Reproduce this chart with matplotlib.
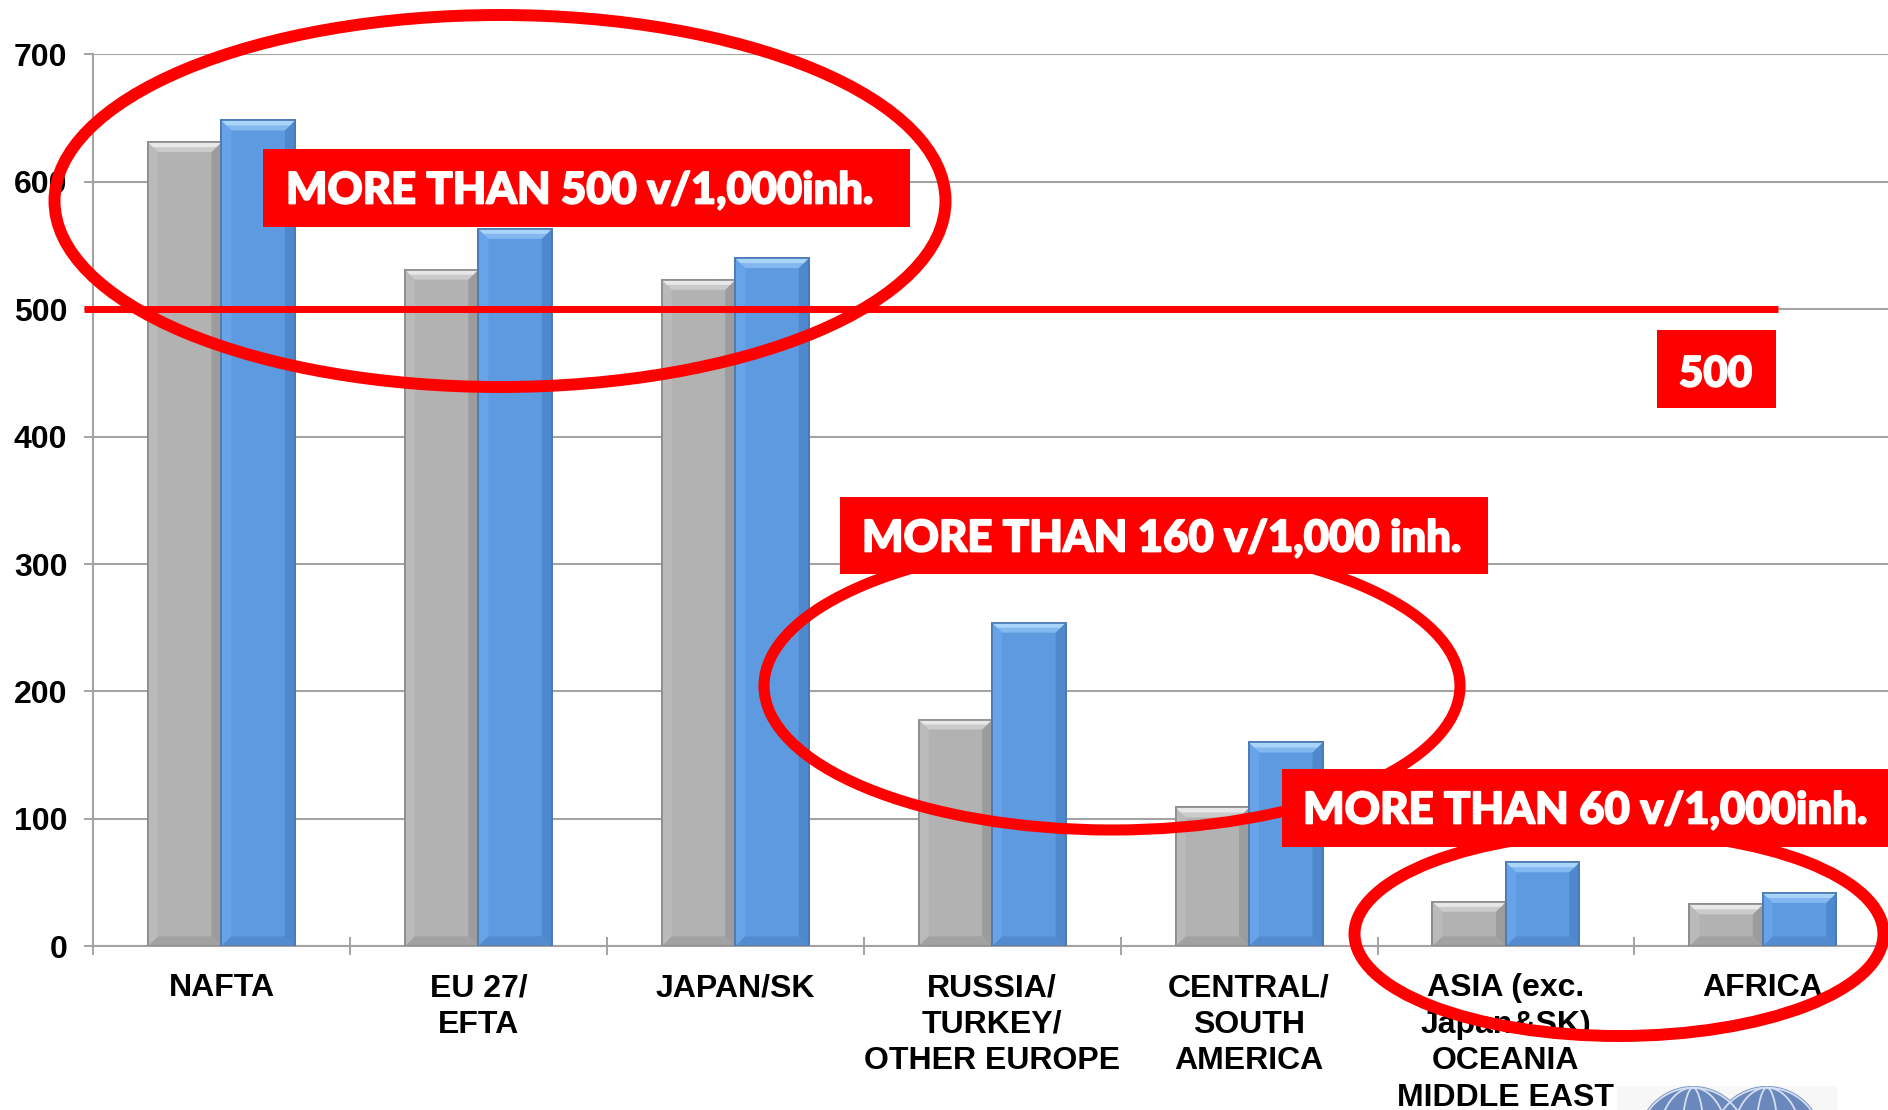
import numpy as np
import matplotlib
matplotlib.use("Agg")
import matplotlib.pyplot as plt
import matplotlib.patheffects as pe
from matplotlib.patches import Ellipse, Rectangle, Polygon

# ---------------------------------------------------------------- data
regions = ["NAFTA", "EU 27/\nEFTA", "JAPAN/SK", "RUSSIA/\nTURKEY/\nOTHER EUROPE",
           "CENTRAL/\nSOUTH\nAMERICA", "ASIA (exc.\nJapan&SK)\nOCEANIA\nMIDDLE EAST",
           "AFRICA"]
earlier = [631, 531, 523, 178, 109, 35, 33]     # grey series (vehicles / 1,000 inh.)
later = [648, 563, 540, 254, 160, 66, 42]       # blue series (vehicles / 1,000 inh.)
y_ticks = [0, 100, 200, 300, 400, 500, 600, 700]
threshold = 500
threshold_label = "500"
callouts = ["MORE THAN 500 v/1,000inh.",
            "MORE THAN 160 v/1,000 inh.",
            "MORE THAN 60 v/1,000inh."]

# ---------------------------------------------------------------- layout
W, H = 1888, 1110
plt.rcParams['font.family'] = ['Liberation Sans', 'DejaVu Sans']
fig = plt.figure(figsize=(W / 100, H / 100), dpi=100)
fig.patch.set_facecolor('white')


def fx(x):
    return x / W


def fy(y):
    return 1 - y / H


AX_L, AX_ZERO, AX_TOP = 93, 946.4, 54.2
CAT_PX = 256.9
ax = fig.add_axes([fx(AX_L), fy(AX_ZERO), (W - AX_L) / W, (AX_ZERO - AX_TOP) / H])
ax.set_xlim(-0.5, -0.5 + (W - AX_L) / CAT_PX)
ax.set_ylim(0, 700)
px_x = CAT_PX
px_y = (AX_ZERO - AX_TOP) / 700

GRID = '#A3A3A3'
for s in ('top', 'right'):
    ax.spines[s].set_visible(False)
for s in ('left', 'bottom'):
    ax.spines[s].set_color(GRID)
    ax.spines[s].set_linewidth(1.5)
ax.set_axisbelow(True)
ax.yaxis.grid(True, color=GRID, linewidth=1.5)

ax.set_yticks(y_ticks)
ax.set_yticklabels([str(v) for v in y_ticks], fontsize=23, fontweight='bold')
ax.tick_params(axis='y', direction='out', length=6.5, width=1.4, color=GRID, pad=12)

x = np.arange(len(regions))
ax.set_xticks(np.arange(-0.5, len(regions) - 1, 1.0))
ax.set_xticklabels([])
ax.tick_params(axis='x', which='major', direction='inout', length=13, width=1.4, color=GRID)
ax.set_xticks(x, minor=True)
ax.set_xticklabels(regions, minor=True, fontsize=23, fontweight='bold', linespacing=1.28)
ax.tick_params(axis='x', which='minor', length=0, pad=19.5)

# ---------------------------------------------------------------- bars
bw = 0.286
styles = {
    'grey': dict(face='#B2B2B2', edge='#8A8A8A', top=('#E8E8E8', '#CBCBCB'),
                 left='#BABABA', right='#9C9C9C', bottom='#A2A2A2'),
    'blue': dict(face='#5D9AE0', edge='#4A78B2', top=('#AAD5FA', '#82B8EF'),
                 left='#66A3E8', right='#4F88CC', bottom='#538BCF'),
}


def bevelled(xl, value, st):
    ax.bar(xl, value, bw, align='edge', color=st['face'], edgecolor=st['edge'],
           linewidth=1.2, zorder=2)
    d = 10
    dx, dy = d / px_x, d / px_y
    x0, x1 = xl, xl + bw
    kw = dict(closed=True, linewidth=0, zorder=2.5)
    ax.add_patch(Polygon([(x0, 0), (x0 + dx, dy), (x0 + dx, value - dy), (x0, value)],
                         facecolor=st['left'], **kw))
    ax.add_patch(Polygon([(x1, 0), (x1 - dx, dy), (x1 - dx, value - dy), (x1, value)],
                         facecolor=st['right'], **kw))
    ax.add_patch(Polygon([(x0, 0), (x1, 0), (x1 - dx, dy), (x0 + dx, dy)],
                         facecolor=st['bottom'], **kw))
    ax.add_patch(Polygon([(x0, value), (x1, value), (x1 - dx, value - dy), (x0 + dx, value - dy)],
                         facecolor=st['top'][1], **kw))
    ax.add_patch(Polygon([(x0, value), (x1, value), (x1 - dx / 2, value - dy / 2),
                          (x0 + dx / 2, value - dy / 2)], facecolor=st['top'][0], **kw))
    ax.add_patch(Rectangle((x0, 0), bw, value, facecolor='none', edgecolor=st['edge'],
                           linewidth=1.2, zorder=2.6))


for xi, g, b in zip(x, earlier, later):
    bevelled(xi - bw, g, styles['grey'])
    bevelled(xi, b, styles['blue'])

# ---------------------------------------------------------------- threshold line
RED = '#FF0000'
ax.hlines(threshold, -0.5 - 9 / px_x, -0.5 + (1778 - AX_L) / px_x, color=RED,
          linewidth=5, clip_on=False, zorder=4)

# ---------------------------------------------------------------- call-outs
def ring(cx, cy, w, h, lw):
    fig.add_artist(Ellipse((fx(cx), fy(cy)), w / W, h / H, fill=False,
                           edgecolor=RED, linewidth=lw, zorder=5))


ring(500, 201, 891, 372, 8.6)
ring(1112, 686, 696, 288, 8.0)
ring(1619, 934, 529, 204, 8.6)


def box(x0, y0, x1, y1):
    fig.add_artist(Rectangle((fx(x0), fy(y1)), (x1 - x0) / W, (y1 - y0) / H,
                             facecolor=RED, edgecolor='none', zorder=6))


renderer = fig.canvas.get_renderer()
heavy = [pe.withStroke(linewidth=1.3, foreground='white')]


def fitted(x0, x1, baseline, s):
    t = fig.text(fx(x0), fy(baseline), s, color='white', fontsize=30,
                 family=['Lato', 'DejaVu Sans'], fontweight='black',
                 ha='left', va='baseline', zorder=7)
    wpx = t.get_window_extent(renderer).width
    t.set_fontsize(30 * (x1 - x0) / wpx)
    t.set_path_effects(heavy)
    return t


box(263, 149, 910, 227)
fitted(286, 872, 203.5, callouts[0])
box(840, 497, 1488, 574)
fitted(862, 1460, 551.5, callouts[1])
box(1282, 769, W + 5, 847)
fitted(1303, 1866, 823.5, callouts[2])
box(1657, 330, 1776, 408)
fitted(1679, 1752, 386.5, threshold_label)

# ---------------------------------------------------------------- logo (bottom right)
fig.add_artist(Rectangle((fx(1617), 0), 220 / W, 24 / H, facecolor='#F7F7F7',
                         edgecolor='none', zorder=1))
r = 56
for cx in (1693, 1767):
    fig.add_artist(Ellipse((fx(cx), fy(1142)), 2 * r / W, 2 * r / H,
                           facecolor='#6B88BC', edgecolor='none', zorder=2))
for cx in (1693, 1767):
    for k in (0.62, 0.2):
        fig.add_artist(Ellipse((fx(cx), fy(1142)), 2 * r * k / W, 2 * r * 0.97 / H,
                               fill=False, edgecolor='#D3DEF0', linewidth=1.3, zorder=3))
    fig.add_artist(Ellipse((fx(cx), fy(1142)), 2 * r * 0.97 / W, 2 * r * 0.97 / H,
                           fill=False, edgecolor='#D3DEF0', linewidth=1.3, zorder=3))

fig.savefig('out.png', dpi=100)
